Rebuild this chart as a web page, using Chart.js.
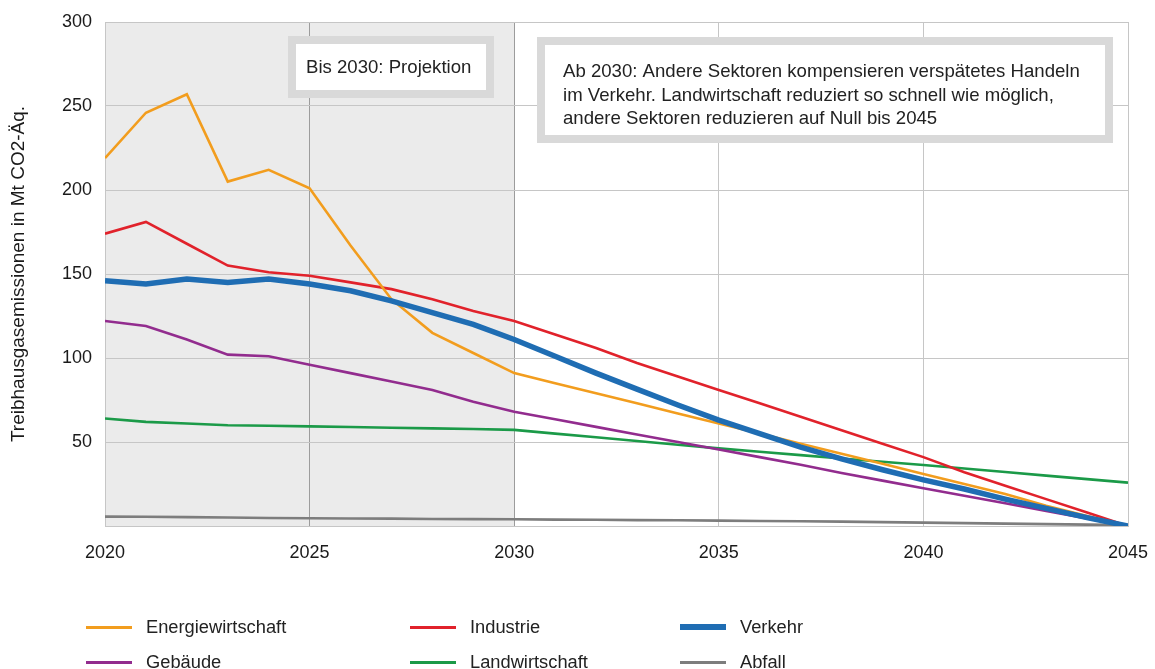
<!DOCTYPE html>
<html lang="de">
<head>
<meta charset="utf-8">
<title>Treibhausgasemissionen nach Sektoren</title>
<script src="https://cdn.jsdelivr.net/npm/chart.js@4.4.1/dist/chart.umd.min.js"></script>
<style>
  html, body { margin: 0; padding: 0; background: #fff; }
  #wrap { position: relative; width: 1155px; height: 669px; font-family: "Liberation Sans", Arial, sans-serif; }
  #mycanvas { position: absolute; left: 0; top: 0; }
  .lg { position: absolute; height: 20px; display: flex; align-items: center; font-size: 18.3px; color: #222; white-space: nowrap; }
  .lg span.sw { display: inline-block; width: 46px; margin-right: 14px; }
</style>
</head>
<body>
<div id="wrap">
  <canvas id="mycanvas" width="1155" height="669"></canvas>
  <div id="legend"></div>
</div>
<script>
// Jahre und Werte (Mt CO2-Äq.)
var years = [2020, 2021, 2022, 2023, 2024, 2025, 2026, 2027, 2028, 2029, 2030, 2031, 2032,
             2033, 2034, 2035, 2036, 2037, 2038, 2039, 2040, 2041, 2042, 2043, 2044, 2045];

var energiewirtschaft = [219, 246, 257, 205, 212, 201, 167, 135, 115, 103, 91, 85, 79,
                         73, 67, 61, 55, 49, 43, 37, 31, 25, 19, 12, 6, 0];
var industrie = [174, 181, 168, 155, 151, 149, 145, 141, 135, 128, 122, 114, 106,
                 97, 89, 81, 73, 65, 57, 49, 41, 32, 24, 16, 8, 0];
var verkehr = [146, 144, 147, 145, 147, 144, 140, 134, 127, 120, 111, 101, 91,
               81.5, 72, 63, 55, 47, 40, 33.5, 27.5, 22, 16, 10.5, 5, 0];
var gebaeude = [122, 119, 111, 102, 101, 96, 91, 86, 81, 74, 68, 63.5, 59,
                54.5, 50, 45.5, 41, 36.5, 31.5, 27, 22.5, 18, 13.5, 9, 4.5, 0];
var landwirtschaft = [64, 62, 61, 60, 59.7, 59.3, 58.9, 58.5, 58.1, 57.7, 57.2, 55, 52.8,
                      50.6, 48.4, 46.2, 44.2, 42.2, 40.2, 38.2, 36.3, 34.2, 32.1, 30, 27.9, 25.8];
var abfall = [5.6, 5.5, 5.3, 5.1, 4.8, 4.6, 4.5, 4.4, 4.2, 4.1, 4.0, 3.8, 3.7,
              3.5, 3.4, 3.2, 3.0, 2.8, 2.6, 2.3, 2.0, 1.7, 1.4, 1.1, 0.8, 0.5];

var yTicks = [50, 100, 150, 200, 250, 300];
var xTicks = [2020, 2025, 2030, 2035, 2040, 2045];

var projektionBis = 2030;
var note1 = ['Bis 2030: Projektion'];
var note2 = ['Ab 2030: Andere Sektoren kompensieren verspätetes Handeln',
             'im Verkehr. Landwirtschaft reduziert so schnell wie möglich,',
             'andere Sektoren reduzieren auf Null bis 2045'];

var FONT = '"Liberation Sans", Arial, sans-serif';

function pts(arr) {
	var out = [];
	for (var i in years) {
		out.push({x: years[i], y: arr[i]});
	}
	return out;
}

var series = [
	{label: 'Energiewirtschaft', data: energiewirtschaft, color: '#f29d1e', width: 2.6, order: 1},
	{label: 'Industrie', data: industrie, color: '#e1222b', width: 2.6, order: 1},
	{label: 'Verkehr', data: verkehr, color: '#1f6db3', width: 5.5, order: 0},
	{label: 'Gebäude', data: gebaeude, color: '#922c8e', width: 2.6, order: 1},
	{label: 'Landwirtschaft', data: landwirtschaft, color: '#1b9a48', width: 2.6, order: 1},
	{label: 'Abfall', data: abfall, color: '#7d7d7d', width: 2.6, order: 1}
];

var datasets = series.map(function(s) {
	return {
		label: s.label,
		data: pts(s.data),
		borderColor: s.color,
		backgroundColor: s.color,
		borderWidth: s.width,
		pointRadius: 0,
		tension: 0,
		fill: false,
		order: s.order
	};
});

// grauer Hintergrund für den Projektionszeitraum
var shadePlugin = {
	id: 'shade',
	beforeDraw: function(chart) {
		var ctx = chart.ctx, a = chart.chartArea, x = chart.scales.x;
		ctx.save();
		ctx.fillStyle = '#ebebeb';
		ctx.fillRect(a.left, a.top, x.getPixelForValue(projektionBis) - a.left, a.bottom - a.top);
		ctx.restore();
	}
};

// Textkästen
function drawBox(ctx, left, top, right, bottom, lines, textX, firstY, lineGap) {
	ctx.save();
	ctx.fillStyle = '#ffffff';
	ctx.fillRect(left, top, right - left, bottom - top);
	ctx.strokeStyle = '#d9d9d9';
	ctx.lineWidth = 8;
	ctx.strokeRect(left + 4, top + 4, right - left - 8, bottom - top - 8);
	ctx.fillStyle = '#222';
	ctx.font = '18.6px ' + FONT;
	ctx.textBaseline = 'middle';
	ctx.textAlign = 'left';
	for (var i = 0; i < lines.length; i++) {
		ctx.fillText(lines[i], textX, firstY + i * lineGap);
	}
	ctx.restore();
}

var notesPlugin = {
	id: 'notes',
	afterDatasetsDraw: function(chart) {
		var ctx = chart.ctx;
		drawBox(ctx, 288, 36, 494, 98, note1, 306, 68, 0);
		drawBox(ctx, 537, 37, 1113, 143, note2, 563, 72, 23.5);
	}
};

var ctx = document.getElementById('mycanvas');

var chart = new Chart(ctx, {
	type: 'line',
	data: { datasets: datasets },
	options: {
		responsive: false,
		animation: false,
		layout: { padding: { left: 0, right: 27, top: 22, bottom: 93 } },
		plugins: {
			legend: { display: false },
			tooltip: { enabled: false }
		},
		scales: {
			x: {
				type: 'linear',
				min: 2020,
				max: 2045,
				afterFit: function(scale) {
					scale.height = 50;
					scale.paddingLeft = 0;
					scale.paddingRight = 0;
				},
				afterBuildTicks: function(scale) {
					scale.ticks = xTicks.map(function(v) { return {value: v}; });
				},
				ticks: {
					color: '#1a1a1a',
					font: { family: FONT, size: 18 },
					padding: 16,
					maxRotation: 0,
					callback: function(v) { return String(v); }
				},
				grid: {
					drawTicks: false,
					lineWidth: 1,
					color: function(c) {
						var v = c.tick ? c.tick.value : 0;
						return (v > 2020 && v <= projektionBis) ? '#9c9c9c' : '#c6c6c6';
					}
				},
				border: { display: true, color: '#c6c6c6' }
			},
			y: {
				min: 0,
				max: 300,
				afterFit: function(scale) {
					scale.width = 105;
					scale.paddingTop = 0;
					scale.paddingBottom = 0;
				},
				afterBuildTicks: function(scale) {
					scale.ticks = [{value: 0}].concat(yTicks.map(function(v) { return {value: v}; }));
				},
				ticks: {
					color: '#1a1a1a',
					font: { family: FONT, size: 18 },
					padding: 13,
					callback: function(v) { return v === 0 ? '' : String(v); }
				},
				grid: { drawTicks: false, color: '#c6c6c6', lineWidth: 1 },
				border: { display: true, color: '#c6c6c6' },
				title: {
					display: true,
					text: 'Treibhausgasemissionen in Mt CO2-Äq.',
					color: '#1a1a1a',
					font: { family: FONT, size: 19 },
					padding: { top: 7, bottom: 0 }
				}
			}
		}
	},
	plugins: [shadePlugin, notesPlugin]
});

// Legende in drei Spalten
var legendPos = [
	{x: 86, y: 627}, {x: 410, y: 627}, {x: 680, y: 627},
	{x: 86, y: 662}, {x: 410, y: 662}, {x: 680, y: 662}
];
var legendEl = document.getElementById('legend');
series.forEach(function(s, i) {
	var d = document.createElement('div');
	d.className = 'lg';
	d.style.left = legendPos[i].x + 'px';
	d.style.top = (legendPos[i].y - 10) + 'px';
	var sw = document.createElement('span');
	sw.className = 'sw';
	sw.style.height = (s.width > 4 ? 6 : 3) + 'px';
	sw.style.background = s.color;
	d.appendChild(sw);
	d.appendChild(document.createTextNode(s.label));
	legendEl.appendChild(d);
});
</script>
</body>
</html>
